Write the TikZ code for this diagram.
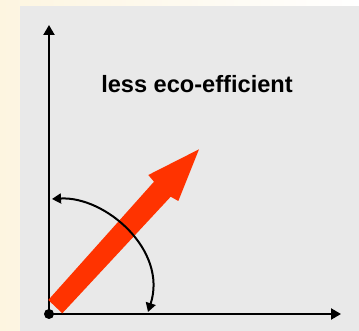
\documentclass[tikz,border=0pt]{standalone}
\usepackage{fontspec}
\setmainfont{Liberation Sans}
\usetikzlibrary{arrows.meta}
\definecolor{panelgray}{HTML}{E9E9E9}
\definecolor{arrowred}{HTML}{FF3300}
\definecolor{cream}{HTML}{FDF5E0}

\begin{document}
\begin{tikzpicture}[x=1pt,y=-1pt,
    axis/.style={black, line width=2.2pt, -{Triangle[length=10pt,width=11pt]}},
    turn/.style={black, line width=2pt, {Triangle[length=9pt,width=10pt]}-{Triangle[length=9pt,width=10pt]}}]
    \useasboundingbox (0,0) rectangle (359,331);
    \shade [left color=cream, right color=white] (0,0) rectangle (359,331);
    \fill [panelgray] (20,6) rectangle (359,331);
    \coordinate (o) at (49,314);
    \coordinate (ytop) at (49,25);
    \coordinate (xend) at (341,314);
    \coordinate (turnx) at (148,312);
    \coordinate (turny) at (52,199);
    \draw [axis] (o) -- (ytop);
    \draw [axis] (o) -- (xend);
    \fill [black] (o) circle (5);
    % big red arrow
    \fill [arrowred] (48.3,300) -- (154,181.7) -- (148.3,175) -- (199,149.3)
        -- (178.3,201) -- (170.7,196.7) -- (62.3,313.3) -- cycle;
    \draw [turn] (turny) .. controls (105,196) and (168,250) .. (turnx);
    \node [font=\bfseries\fontsize{23.6}{28}\selectfont, anchor=base] (label) at (197,92.7) {less eco-efficient};
\end{tikzpicture}
\end{document}
